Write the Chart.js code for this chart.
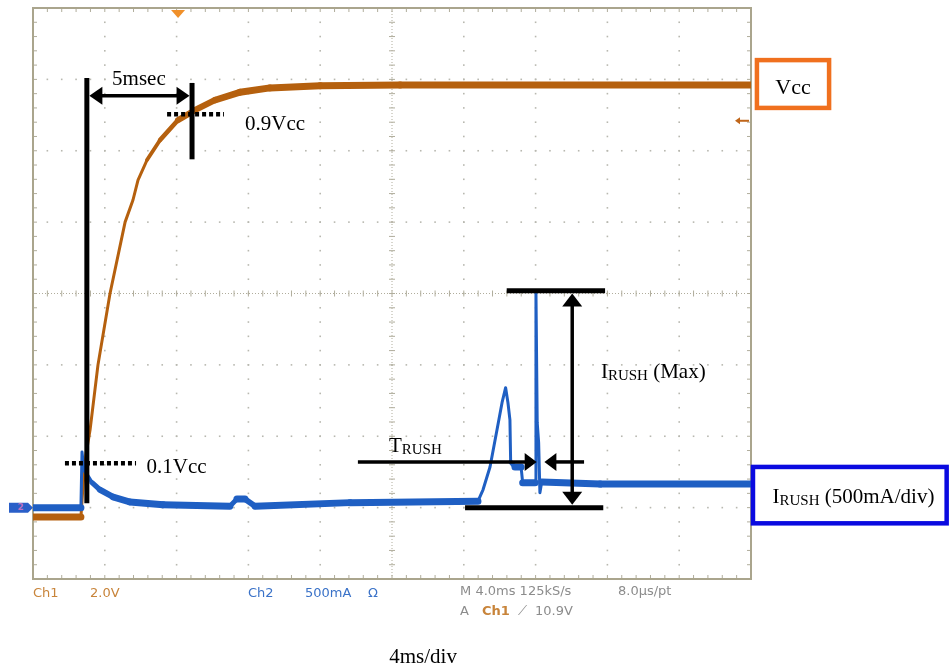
<!DOCTYPE html>
<html>
<head>
<meta charset="utf-8">
<script src="https://cdn.jsdelivr.net/npm/chart.js@4.4.0/dist/chart.umd.min.js"></script>
<style>
  html, body { margin: 0; padding: 0; background: #fff; }
</style>
</head>
<body>
<canvas id="scope" width="949" height="669"></canvas>
<script>
// x in ms (4 ms/div), y in screen divisions (Ch1 2.0 V/div, Ch2 500 mA/div)
let timeDivs  = [0, 4, 8, 12, 16, 20, 24, 28, 32, 36, 40];
let levelDivs = [-4, -3, -2, -1, 0, 1, 2, 3, 4];

// Ch1 : Vcc ramp
let vccTime = [0, 2.67, 2.79, 2.95, 3.18, 3.62, 4.29, 5.13, 5.57, 5.85, 6.35, 7.08, 8.08, 9.03, 10.14, 11.53, 13.2, 16.0, 20.45, 40];
let vccDiv  = [-3.13, -3.13, -2.68, -2.26, -1.91, -1.00, 0.00, 1.00, 1.31, 1.59, 1.87, 2.15, 2.43, 2.57, 2.71, 2.82, 2.88, 2.91, 2.92, 2.92];

// Ch2 : inrush current
let irushTime = [0, 2.67, 2.73, 2.84, 3.29, 3.73, 4.46, 5.40, 7.24, 10.97, 11.36, 11.81, 12.37, 17.66, 24.79, 25.07, 25.46, 25.85, 26.13, 26.33, 26.46, 26.57, 26.61, 26.85, 27.19, 27.28, 27.97, 28.02, 28.09, 28.17, 28.24, 28.34, 31.59, 40];
let irushDiv  = [-3.00, -3.00, -2.22, -2.47, -2.65, -2.75, -2.85, -2.92, -2.96, -2.98, -2.88, -2.88, -2.98, -2.93, -2.91, -2.75, -2.43, -1.91, -1.53, -1.32, -1.53, -1.77, -2.36, -2.43, -2.43, -2.65, -2.65, 0.02, -1.81, -2.09, -2.79, -2.64, -2.67, -2.67];

const SERIF = '"Liberation Serif", "Times New Roman", serif';
const MONO = '"DejaVu Sans", sans-serif';

// noisy trace looks thick when flat, thin when steep
function traceWidth(c) {
  let dx = Math.abs(c.p1.x - c.p0.x), dy = Math.abs(c.p1.y - c.p0.y);
  let len = Math.hypot(dx, dy) || 1;
  return Math.max(3, 7 * dx / len);
}

function seg(ctx, x1, y1, x2, y2, w, dash) {
  ctx.beginPath();
  ctx.lineWidth = w;
  ctx.setLineDash(dash || []);
  ctx.moveTo(x1, y1);
  ctx.lineTo(x2, y2);
  ctx.stroke();
  ctx.setLineDash([]);
}
function head(ctx, tx, ty, ang, len, half) {
  ctx.save();
  ctx.translate(tx, ty);
  ctx.rotate(ang);
  ctx.beginPath();
  ctx.moveTo(0, 0);
  ctx.lineTo(-len, -half);
  ctx.lineTo(-len, half);
  ctx.closePath();
  ctx.fill();
  ctx.restore();
}
function subLabel(ctx, big, small, rest, x, y, size) {
  ctx.textAlign = 'left';
  ctx.textBaseline = 'alphabetic';
  ctx.font = size + 'px ' + SERIF;
  ctx.fillText(big, x, y);
  let w = ctx.measureText(big).width;
  ctx.font = Math.round(size * 0.7) + 'px ' + SERIF;
  ctx.fillText(small, x + w, y + size * 0.12);
  w += ctx.measureText(small).width;
  if (rest) {
    ctx.font = size + 'px ' + SERIF;
    ctx.fillText(rest, x + w, y);
  }
}

const graticule = {
  id: 'graticule',
  beforeDatasetsDraw(chart) {
    const {ctx, chartArea: a, scales: {x, y}} = chart;
    const xs = timeDivs.map(t => x.getPixelForValue(t));
    const ys = levelDivs.map(v => y.getPixelForValue(v));
    const sx = (xs[1] - xs[0]) / 5, sy = (ys[0] - ys[1]) / 5;
    const cx = x.getPixelForValue(20), cy = y.getPixelForValue(0);
    ctx.save();
    // dotted division lines
    ctx.fillStyle = '#b8b8b0';
    xs.slice(1, -1).forEach(px => {
      if (Math.abs(px - cx) < 1) return;
      for (let py = a.top; py <= a.bottom + 0.5; py += sy) ctx.fillRect(px - 0.8, py - 0.8, 1.6, 1.6);
    });
    ys.slice(1, -1).forEach(py => {
      if (Math.abs(py - cy) < 1) return;
      for (let px = a.left; px <= a.right + 0.5; px += sx) ctx.fillRect(px - 0.8, py - 0.8, 1.6, 1.6);
    });
    // centre cross
    ctx.strokeStyle = '#b0ad9c';
    seg(ctx, a.left, cy, a.right, cy, 1, [1, 2]);
    seg(ctx, cx, a.top, cx, a.bottom, 1, [1, 2]);
    ctx.lineWidth = 1;
    for (let px = a.left; px <= a.right + 0.5; px += sx) seg(ctx, px, cy - 3, px, cy + 3, 1);
    for (let py = a.top; py <= a.bottom + 0.5; py += sy) seg(ctx, cx - 3, py, cx + 3, py, 1);
    // frame ticks
    for (let px = a.left; px <= a.right + 0.5; px += sx) {
      seg(ctx, px, a.top, px, a.top + 4, 1);
      seg(ctx, px, a.bottom, px, a.bottom - 4, 1);
    }
    for (let py = a.top; py <= a.bottom + 0.5; py += sy) {
      seg(ctx, a.left, py, a.left + 4, py, 1);
      seg(ctx, a.right, py, a.right - 4, py, 1);
    }
    ctx.strokeStyle = '#aaa58d';
    ctx.lineWidth = 2;
    ctx.strokeRect(a.left, a.top, a.right - a.left, a.bottom - a.top);
    ctx.restore();
  }
};

const annotate = {
  id: 'annotate',
  afterDatasetsDraw(chart) {
    const {ctx, chartArea: a, scales: {x, y}} = chart;
    const px = t => x.getPixelForValue(t), py = v => y.getPixelForValue(v);
    ctx.save();

    // scope markers
    ctx.fillStyle = '#f0902a';
    let tx = px(8.08);
    ctx.beginPath();
    ctx.moveTo(tx - 7, a.top + 2); ctx.lineTo(tx + 7, a.top + 2); ctx.lineTo(tx, a.top + 10);
    ctx.closePath(); ctx.fill();
    ctx.strokeStyle = ctx.fillStyle = '#c0661a';
    seg(ctx, a.right - 2, py(2.42), a.right - 12, py(2.42), 2);
    head(ctx, a.right - 16, py(2.42), Math.PI, 5, 3.5);
    ctx.fillStyle = '#2a5fc8';
    let my = py(-3.0);
    ctx.beginPath();
    ctx.moveTo(a.left - 24, my - 5); ctx.lineTo(a.left - 5, my - 5); ctx.lineTo(a.left, my);
    ctx.lineTo(a.left - 5, my + 5); ctx.lineTo(a.left - 24, my + 5); ctx.closePath(); ctx.fill();
    ctx.fillStyle = '#c070c0';
    ctx.font = 'bold 9px ' + MONO;
    ctx.textAlign = 'center'; ctx.textBaseline = 'middle';
    ctx.fillText('2', a.left - 12, my + 0.5);

    ctx.fillStyle = ctx.strokeStyle = '#000';
    // 5 msec rise time
    seg(ctx, px(3.0), py(3.02), px(3.0), py(-2.94), 5);
    seg(ctx, px(8.86), py(2.95), px(8.86), py(1.88), 5);
    seg(ctx, px(3.0) + 12, py(2.77), px(8.86) - 12, py(2.77), 3.5);
    head(ctx, px(3.0) + 2.5, py(2.77), Math.PI, 13, 9);
    head(ctx, px(8.86) - 2.5, py(2.77), 0, 13, 9);
    ctx.font = '21px ' + SERIF;
    ctx.textAlign = 'center'; ctx.textBaseline = 'alphabetic';
    ctx.fillText('5msec', px(5.9), py(2.92));
    seg(ctx, px(7.47), py(2.51), px(10.64), py(2.51), 4.5, [4, 3]);
    seg(ctx, px(1.78), py(-2.38), px(5.74), py(-2.38), 4.5, [4, 3]);
    ctx.textAlign = 'left';
    ctx.fillText('0.9Vcc', px(11.81), py(2.29));
    ctx.fillText('0.1Vcc', px(6.33), py(-2.51));

    // T_RUSH
    seg(ctx, px(18.1), py(-2.36), px(28.06) - 10, py(-2.36), 3.5);
    head(ctx, px(28.06), py(-2.36), 0, 12, 9);
    seg(ctx, px(30.7), py(-2.36), px(28.49) + 10, py(-2.36), 3.5);
    head(ctx, px(28.49), py(-2.36), Math.PI, 12, 9);
    subLabel(ctx, 'T', 'RUSH', '', px(19.83), py(-2.22), 21);

    // I_RUSH max
    seg(ctx, px(26.39), py(0.04), px(31.87), py(0.04), 5);
    seg(ctx, px(24.07), py(-3.0), px(31.77), py(-3.0), 5);
    seg(ctx, px(30.04), py(0.0) + 10, px(30.04), py(-2.96) - 10, 3.5);
    head(ctx, px(30.04), py(0.0), -Math.PI / 2, 13, 10);
    head(ctx, px(30.04), py(-2.96), Math.PI / 2, 13, 10);
    subLabel(ctx, 'I', 'RUSH', ' (Max)', px(31.64), py(-1.18), 21);

    // channel boxes
    ctx.strokeStyle = '#f0701e';
    ctx.lineWidth = 4.5;
    ctx.strokeRect(px(40.33), py(3.27), px(44.35) - px(40.33), py(2.60) - py(3.27));
    ctx.font = '22px ' + SERIF;
    ctx.textAlign = 'center';
    ctx.fillText('Vcc', px(42.34), py(2.79));
    ctx.strokeStyle = '#0a0ae0';
    ctx.strokeRect(px(40.11), py(-2.43), px(50.9) - px(40.11), py(-3.22) - py(-2.43));
    subLabel(ctx, 'I', 'RUSH', ' (500mA/div)', px(41.2), py(-2.93), 21);

    // scope readout
    const r1 = a.bottom + 15, r2 = a.bottom + 33;
    ctx.font = '13px ' + MONO;
    ctx.textAlign = 'left'; ctx.textBaseline = 'middle';
    ctx.fillStyle = '#c8843a';
    ctx.fillText('Ch1', px(0), r1);
    ctx.fillText('2.0V', px(3.18), r1);
    ctx.fillStyle = '#3a72c8';
    ctx.fillText('Ch2', px(11.98), r1);
    ctx.fillText('500mA', px(15.15), r1);
    ctx.fillText('Ω', px(18.66), r1);
    ctx.fillStyle = '#8c8c8c';
    ctx.fillText('M 4.0ms 125kS/s', px(23.79), r1 - 2);
    ctx.fillText('8.0µs/pt', px(32.59), r1 - 2);
    ctx.fillText('A', px(23.79), r2);
    ctx.fillText('⟋', px(27.0), r2);
    ctx.fillText('10.9V', px(27.97), r2);
    ctx.fillStyle = '#c8843a';
    ctx.font = 'bold 13px ' + MONO;
    ctx.fillText('Ch1', px(25.01), r2);

    ctx.fillStyle = '#000';
    ctx.font = '21px ' + SERIF;
    ctx.textAlign = 'center'; ctx.textBaseline = 'alphabetic';
    ctx.fillText('4ms/div', px(21.73), a.bottom + 84);
    ctx.restore();
  }
};

const toPoints = (ts, vs) => ts.map((t, i) => ({x: t, y: vs[i]}));

new Chart(document.getElementById('scope'), {
  type: 'line',
  data: {
    datasets: [
      {
        label: 'IRUSH',
        data: toPoints(irushTime, irushDiv),
        borderColor: '#1f5fc3',
        borderWidth: 7,
        pointRadius: 0,
        tension: 0,
        borderCapStyle: 'round',
        borderJoinStyle: 'round',
        segment: {borderWidth: traceWidth}
      },
      {
        label: 'Vcc',
        data: toPoints(vccTime, vccDiv),
        borderColor: '#b5600e',
        borderWidth: 7,
        pointRadius: 0,
        tension: 0,
        borderCapStyle: 'round',
        borderJoinStyle: 'round',
        segment: {borderWidth: traceWidth}
      }
    ]
  },
  options: {
    responsive: false,
    devicePixelRatio: 1,
    animation: false,
    layout: {padding: {left: 33, right: 198, top: 8, bottom: 90}},
    scales: {
      x: {type: 'linear', min: 0, max: 40, display: false},
      y: {type: 'linear', min: -4, max: 4, display: false}
    },
    plugins: {legend: {display: false}, tooltip: {enabled: false}}
  },
  plugins: [graticule, annotate]
});
</script>
</body>
</html>
